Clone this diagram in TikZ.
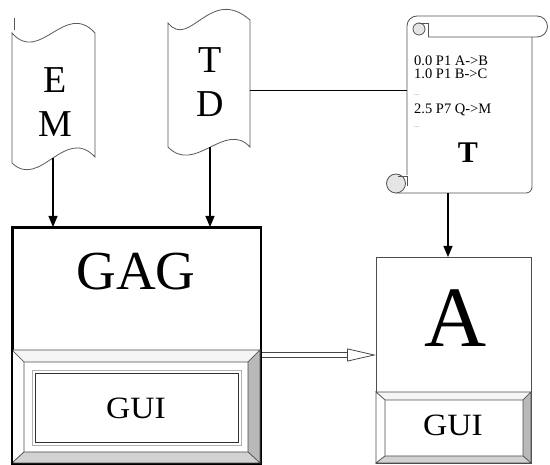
\documentclass[tikz,border=0pt]{standalone}
\usepackage{fontspec}
\setmainfont{Liberation Serif}
\usetikzlibrary{arrows.meta,positioning}

\tikzset{
  tapeline/.style={draw=gray!70!black, line width=0.8pt, fill=white},
  scrollline/.style={draw=gray!65!black, line width=0.8pt},
  bevline/.style={draw=gray!60!black, line width=0.6pt},
  letter/.style={font=\fontsize{38}{38}\selectfont, inner sep=0pt},
  guitext/.style={font=\fontsize{31}{31}\selectfont, inner sep=0pt, xscale=1.08},
  scrolltext/.style={font=\fontsize{14.5}{15}\selectfont, anchor=west, inner sep=0pt},
  dots/.style={font=\fontsize{7}{8}\selectfont, text=gray, anchor=west, inner sep=0pt},
  feed/.style={line width=1.2pt, -{Triangle[length=11pt,width=9pt]}},
}

\begin{document}
\begin{tikzpicture}[x=1pt,y=-1pt]
\useasboundingbox (0,0) rectangle (550,465);

% --- E M tape ---
\draw[tapeline] (12,33) .. controls (40,65) and (65,0) .. (95,33) -- (95,157)
  .. controls (65,125) and (40,190) .. (12,163) -- cycle;
\draw[tapeline] (14,18) -- (14,30);
\node[letter] (e) at (55,80) {E};
\node[letter] (m) at (55,124) {M};
\coordinate (em-s) at (53,158);

% --- T D tape ---
\draw[tapeline] (168,23) .. controls (190,50) and (210,-15) .. (250,20) -- (250,147)
  .. controls (225,120) and (195,175) .. (168,147) -- cycle;
\node[letter] (t) at (210,60) {T};
\node[letter] (d) at (210,104) {D};
\coordinate (td-s) at (210,147);
\coordinate (td-e) at (250,90);

% --- scroll T ---
\fill[white] (407,26) rectangle (532,193);
\draw[scrollline, fill=white] (407,175) -- (407,26) arc[start angle=180, end angle=270, radius=10]
  -- (537,16) arc[start angle=-90, end angle=90, radius=10.5] -- (428,37);
\draw[scrollline] (532,37) -- (532,187) arc[start angle=0, end angle=90, radius=6] -- (396,193);
% top curl
\draw[scrollline, fill=gray!20] (419,29) circle (6);
\draw[scrollline] (419,23) -- (428,23) -- (428,37);
% bottom curl
\draw[scrollline, fill=gray!20] (396,183.5) circle (9.5);
\draw[scrollline] (398,176) -- (407,176) -- (407,186);
\node[scrolltext] (l1) at (414,61) {0.0 P1 A->B};
\node[scrolltext] (l2) at (414,74) {1.0 P1 B->C};
\node[dots] (l3) at (414,95) {...};
\node[scrolltext] (l4) at (414,110) {2.5 P7 Q->M};
\node[dots] (l5) at (414,127) {...};
\node[font=\fontsize{30}{30}\selectfont\bfseries, inner sep=0pt] (tt) at (468,153) {T};
\coordinate (sc-w) at (407,90);
\coordinate (sc-s) at (448,193);

% --- GAG box ---
\node[draw, line width=1.6pt, minimum width=248pt, minimum height=236pt,
  anchor=north west, inner sep=0pt] (gag) at (12,227) {};
\node[font=\fontsize{55}{55}\selectfont, inner sep=0pt] (gagt) at (136,272) {GAG};

% GUI button of GAG
\draw[bevline, fill=gray!8]  (12,350) -- (260,350) -- (248,362) -- (24,362) -- cycle;
\draw[bevline, fill=white]   (12,350) -- (24,362) -- (24,452) -- (12,463) -- cycle;
\draw[bevline, fill=gray!55] (260,350) -- (260,463) -- (248,452) -- (248,362) -- cycle;
\draw[bevline, fill=gray!35] (12,463) -- (260,463) -- (248,452) -- (24,452) -- cycle;
\draw[draw=gray!60, line width=0.8pt] (32,370) rectangle (241,445);
\draw[draw=gray!40!black, line width=0.6pt] (35,373) rectangle (238,442);
\node[guitext] (gui1) at (136,408) {GUI};
\draw[line width=1.6pt] (gag.north west) rectangle (gag.south east);

% --- A box ---
\node[draw=gray!60!black, line width=0.9pt, minimum width=155pt, minimum height=206pt,
  anchor=north west, inner sep=0pt] (abox) at (376,257) {};
\node[font=\fontsize{86}{86}\selectfont, inner sep=0pt] (at) at (456,318) {A};

% GUI button of A
\draw[bevline, fill=gray!8]  (376,392) -- (531,392) -- (523,400) -- (385,400) -- cycle;
\draw[bevline, fill=white]   (376,392) -- (385,400) -- (385,456) -- (376,463) -- cycle;
\draw[bevline, fill=gray!55] (531,392) -- (531,463) -- (523,456) -- (523,400) -- cycle;
\draw[bevline, fill=gray!35] (376,463) -- (531,463) -- (523,456) -- (385,456) -- cycle;
\node[guitext] (gui2) at (453,425) {GUI};

% --- connectors ---
\draw[feed] (em-s) -- (em-s |- gag.north);
\draw[feed] (td-s) -- (td-s |- gag.north);
\draw[line width=0.8pt] (td-e) -- (sc-w);
\draw[feed] (sc-s) -- (sc-s |- abox.north);
\draw[draw=gray!55!black, double=white, double distance=3.5pt, line width=0.8pt,
  -{Triangle[open, length=29pt, width=13pt]}] (gag.east |- 0,355) -- (abox.west |- 0,355);

\end{tikzpicture}
\end{document}
